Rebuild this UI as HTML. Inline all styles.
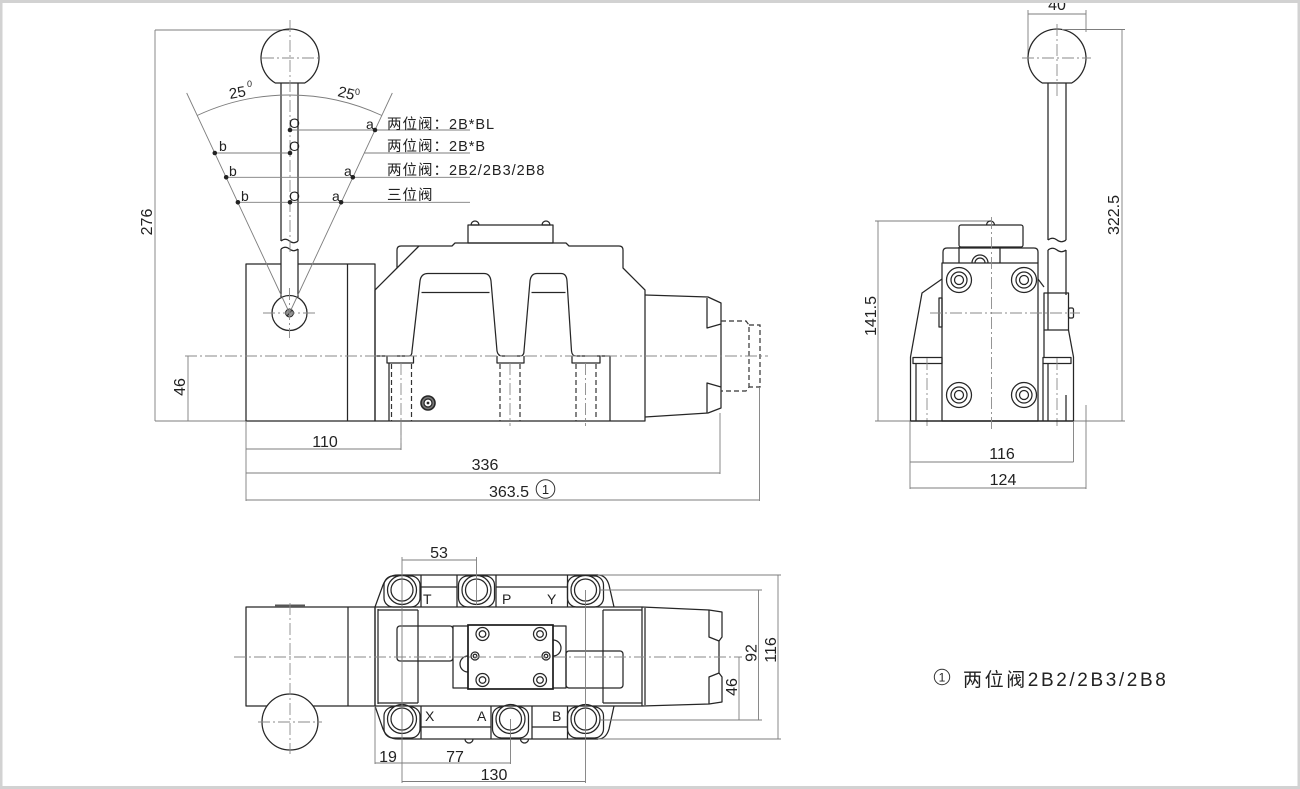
<!DOCTYPE html>
<html><head><meta charset="utf-8">
<style>
html,body{margin:0;padding:0;background:#fff;}
svg{display:block;}
.o{stroke:#262626;stroke-width:1.25;fill:none;stroke-linejoin:round;}
.ow{stroke:#262626;stroke-width:1.25;fill:#fff;stroke-linejoin:round;}
.d{stroke:#7d7d7d;stroke-width:0.9;fill:none;}
.c{stroke:#8a8a8a;stroke-width:0.9;fill:none;stroke-dasharray:12 3 2 3;}
.h{stroke:#333;stroke-width:1.2;fill:none;stroke-dasharray:5 3;}
text{font-family:"Liberation Sans","Noto Sans CJK SC",sans-serif;fill:#222;}
.t{font-size:16px;}
.s{font-size:14px;}
.cn{font-size:14.5px;letter-spacing:1px;}
</style></head><body>
<svg width="1300" height="789" viewBox="0 0 1300 789" xmlns="http://www.w3.org/2000/svg">
<rect x="0" y="0" width="1300" height="789" fill="#fff"/>

<!-- ================= FRONT VIEW ================= -->
<line class="d" x1="155" y1="30" x2="155" y2="421"/>
<line class="d" x1="155" y1="30" x2="289" y2="30"/>
<line class="d" x1="155" y1="421" x2="246" y2="421"/>
<text class="t" transform="translate(152,222) rotate(-90)" text-anchor="middle">276</text>
<line class="d" x1="188" y1="356" x2="188" y2="421"/>
<text class="t" transform="translate(185,387) rotate(-90)" text-anchor="middle">46</text>

<rect class="o" x="246" y="264" width="129" height="157"/>
<line class="o" x1="347.5" y1="264" x2="347.5" y2="421"/>

<path class="o" d="M275.3,83 A29,29 0 1,1 304.7,83 Z"/>
<rect x="281" y="249" width="17" height="50" fill="#fff"/>
<path class="o" d="M281,83 V241 M298,83 V241 M281,249 V297 M298,249 V297"/>
<path class="o" d="M281,241 q4.25,-3.5 8.5,0 t8.5,0 M281,249 q4.25,-3.5 8.5,0 t8.5,0"/>
<line class="c" x1="262" y1="58" x2="318" y2="58"/>
<line class="c" x1="290" y1="20" x2="290" y2="255"/>
<circle class="ow" cx="289.5" cy="313" r="17.5"/>
<circle cx="289.5" cy="313" r="4" fill="#999" stroke="#262626" stroke-width="1"/>
<line x1="287" y1="316" x2="292" y2="310" stroke="#262626" stroke-width="1"/>
<line class="c" x1="263" y1="313" x2="316" y2="313"/>
<line class="c" x1="289.5" y1="288" x2="289.5" y2="338"/>

<line class="d" x1="289.5" y1="313" x2="186.7" y2="93"/>
<line class="d" x1="289.5" y1="313" x2="392.3" y2="93"/>
<path class="d" d="M197.4,115.4 A218,218 0 0,1 381.6,115.4"/>
<text transform="translate(230,99) rotate(-10)" style="font-size:15px">25</text>
<text x="247" y="87" style="font-size:9px">0</text>
<text transform="translate(337,96) rotate(14)" style="font-size:15px">25</text>
<text x="355" y="95" style="font-size:9px">0</text>

<line class="d" x1="290" y1="130" x2="470" y2="130"/>
<line class="d" x1="214.8" y1="153" x2="290" y2="153"/>
<line class="d" x1="364" y1="153" x2="470" y2="153"/>
<line class="d" x1="226" y1="177.3" x2="470" y2="177.3"/>
<line class="d" x1="237.9" y1="202.3" x2="470" y2="202.3"/>
<g fill="#222">
<circle cx="290" cy="130" r="2.3"/><circle cx="375" cy="130" r="2.3"/>
<circle cx="214.8" cy="153" r="2.3"/><circle cx="290" cy="153" r="2.3"/>
<circle cx="226.2" cy="177.3" r="2.3"/><circle cx="352.8" cy="177.3" r="2.3"/>
<circle cx="237.9" cy="202.3" r="2.3"/><circle cx="290" cy="202.3" r="2.3"/><circle cx="341.1" cy="202.3" r="2.3"/>
</g>
<g class="s">
<text x="289" y="128">O</text><text x="366" y="129">a</text>
<text x="219" y="151">b</text><text x="289" y="151">O</text>
<text x="229" y="176">b</text><text x="344" y="176">a</text>
<text x="241" y="201">b</text><text x="289" y="201">O</text><text x="332" y="201">a</text>
</g>
<text class="cn" x="387" y="129">两位阀：2B*BL</text>
<text class="cn" x="387" y="151">两位阀：2B*B</text>
<text class="cn" x="387" y="175">两位阀：2B2/2B3/2B8</text>
<text class="cn" x="387" y="200">三位阀</text>

<path class="o" d="M375,421 V290 L397,268 V250 Q397,246 401,246 H452 L455,243 H566 L569,246 H619 Q623,246 623,250 V268 L645,290 V421 Z"/>
<line class="o" x1="397" y1="268" x2="419" y2="246"/>
<rect class="o" x="468" y="225" width="85" height="18"/>
<path class="o" d="M471,225 A4,4 0 0,1 479,225 Z M542,225 A4,4 0 0,1 550,225 Z"/>
<path class="o" d="M375,356 H409 Q412,356 412,351 L420,281 Q421,273.5 428,273.5 H484 Q490,273.5 491,281 L497,351 Q498,356 502,356 H520 Q524,356 524,351 L530,281 Q531,273.5 537,273.5 H561 Q566.5,273.5 567,281 L571.5,351 Q572,356 576,356 H610 V421"/>
<line class="o" x1="421.5" y1="292.5" x2="489.5" y2="292.5"/>
<line class="o" x1="531.5" y1="292.5" x2="565.5" y2="292.5"/>
<path class="o" d="M387,356 V363 H413.5 V356 M497,356 V363 H524 V356 M572,356 V363 H600 V356"/>
<line class="o" x1="389" y1="363" x2="389" y2="421"/>
<line class="h" x1="391.5" y1="364" x2="391.5" y2="421"/>
<line class="h" x1="411.5" y1="364" x2="411.5" y2="421"/>
<line class="h" x1="500" y1="364" x2="500" y2="421"/>
<line class="h" x1="520" y1="364" x2="520" y2="421"/>
<line class="h" x1="576" y1="364" x2="576" y2="421"/>
<line class="h" x1="596" y1="364" x2="596" y2="418"/>
<line class="c" x1="401" y1="363" x2="401" y2="450"/>
<line class="c" x1="510" y1="363" x2="510" y2="426"/>
<line class="c" x1="585.5" y1="363" x2="585.5" y2="426"/>
<circle cx="428" cy="403" r="7" fill="#777" stroke="#262626" stroke-width="1.6"/>
<circle cx="428" cy="403" r="4" fill="#fff" stroke="#262626" stroke-width="1.2"/>
<circle cx="428" cy="403" r="1.4" fill="#262626"/>

<path class="o" d="M645,295 L708,297 L721,303 V408 L708,413 L645,417"/>
<path class="o" d="M707,298 V328 L721,324 M707,413 V383 L721,387"/>
<path class="h" d="M721,321 H746 L749,325 V387 L746,391 H721"/>
<path class="h" d="M749,325 H760 V387 H749"/>

<line class="c" x1="185" y1="356" x2="768" y2="356"/>

<line class="d" x1="246" y1="421" x2="246" y2="501"/>
<line class="d" x1="246" y1="449" x2="401" y2="449"/>
<line class="d" x1="401" y1="421" x2="401" y2="450"/>
<line class="d" x1="246" y1="473" x2="720" y2="473"/>
<line class="d" x1="720" y1="413" x2="720" y2="474"/>
<line class="d" x1="246" y1="500" x2="759" y2="500"/>
<line class="d" x1="759.5" y1="387" x2="759.5" y2="501"/>
<text class="t" x="325" y="447" text-anchor="middle">110</text>
<text class="t" x="485" y="470" text-anchor="middle">336</text>
<text class="t" x="509" y="497" text-anchor="middle">363.5</text>
<circle cx="545.5" cy="489" r="9.3" fill="none" stroke="#333" stroke-width="1"/>
<text x="545.5" y="494" text-anchor="middle" style="font-size:13px">1</text>

<!-- ================= SIDE VIEW ================= -->
<text class="t" x="1057" y="10" text-anchor="middle">40</text>
<line class="d" x1="1028" y1="14" x2="1086" y2="14"/>
<line class="d" x1="1028" y1="10" x2="1028" y2="56"/>
<line class="d" x1="1086" y1="10" x2="1086" y2="32"/>
<path class="o" d="M1042.3,83 A29,29 0 1,1 1071.7,83 Z"/>
<line class="c" x1="1022" y1="58" x2="1091" y2="58"/>
<line class="c" x1="1057" y1="24" x2="1057" y2="96"/>
<path class="o" d="M1048,83 V240 M1066,83 V240 M1048,250 V295 M1066,250 V295"/>
<path class="o" d="M1048,240 q4.5,-3.5 9,0 t9,0 M1048,250 q4.5,-3.5 9,0 t9,0"/>
<line class="d" x1="1062" y1="29.5" x2="1125" y2="29.5"/>
<line class="d" x1="1122" y1="29.5" x2="1122" y2="421"/>
<text class="t" transform="translate(1119,215) rotate(-90)" text-anchor="middle">322.5</text>
<line class="d" x1="875" y1="221" x2="990" y2="221"/>
<line class="d" x1="878" y1="221" x2="878" y2="421"/>
<text class="t" transform="translate(876,316) rotate(-90)" text-anchor="middle">141.5</text>
<line class="d" x1="875" y1="421" x2="1125" y2="421"/>
<rect class="o" x="959" y="225" width="64" height="22" rx="2"/>
<path class="o" d="M986.5,225 A4,4 0 0,1 994.5,225"/>
<path class="o" d="M943,263 V252 Q943,248 947,248 H1034 Q1038,248 1038,252 V263"/>
<line class="o" x1="959" y1="247" x2="959" y2="263"/>
<line class="o" x1="1000" y1="247" x2="1000" y2="263"/>
<path class="o" d="M972,263 A8,8 0 0,1 988,263 M975,263 A5,5 0 0,1 985,263"/>
<rect class="o" x="942" y="263" width="96" height="158"/>
<g class="o">
<circle cx="959" cy="280" r="12.5"/><circle cx="959" cy="280" r="8"/><circle cx="959" cy="280" r="4.5"/>
<circle cx="1024" cy="280" r="12.5"/><circle cx="1024" cy="280" r="8"/><circle cx="1024" cy="280" r="4.5"/>
<circle cx="959" cy="395" r="12.5"/><circle cx="959" cy="395" r="8"/><circle cx="959" cy="395" r="4.5"/>
<circle cx="1024" cy="395" r="12.5"/><circle cx="1024" cy="395" r="8"/><circle cx="1024" cy="395" r="4.5"/>
</g>
<rect class="o" x="939" y="298" width="3" height="29"/>
<path class="o" d="M942,279 L922,293 L910.5,357 V421"/>
<rect class="o" x="913" y="357.5" width="29" height="6"/>
<line class="o" x1="916" y1="363.5" x2="916" y2="421"/>
<line class="c" x1="927" y1="358" x2="927" y2="426"/>
<path class="o" d="M1038,279 L1044,287"/>
<rect class="o" x="1044" y="293" width="24.5" height="37"/>
<line class="o" x1="1048" y1="295" x2="1048" y2="330"/>
<rect class="o" x="1068.5" y="308" width="5" height="10" rx="1.5"/>
<path class="o" d="M1068.5,330 L1073.5,357 V421 M1044,330 V357"/>
<rect class="o" x="1043" y="357.5" width="28" height="6"/>
<line class="o" x1="1043" y1="363.5" x2="1043" y2="421"/>
<line class="o" x1="1048" y1="363.5" x2="1048" y2="421"/>
<line class="o" x1="1066" y1="395" x2="1066" y2="421"/>
<line class="c" x1="1057" y1="358" x2="1057" y2="426"/>
<line x1="910" y1="421" x2="1074" y2="421" stroke="#262626" stroke-width="1.5"/>
<line class="c" x1="930" y1="313" x2="1080" y2="313"/>
<line class="c" x1="991.5" y1="217" x2="991.5" y2="430"/>
<line class="d" x1="910" y1="421" x2="910" y2="489"/>
<line class="d" x1="1073.5" y1="421" x2="1073.5" y2="462"/>
<line class="d" x1="1086" y1="405" x2="1086" y2="489"/>
<line class="d" x1="910" y1="462" x2="1073.5" y2="462"/>
<line class="d" x1="910" y1="488" x2="1086" y2="488"/>
<text class="t" x="1002" y="459" text-anchor="middle">116</text>
<text class="t" x="1003" y="485" text-anchor="middle">124</text>

<!-- ================= TOP VIEW ================= -->
<rect class="o" x="246" y="607" width="129" height="99"/>
<line class="o" x1="348" y1="607" x2="348" y2="706"/>
<rect x="275" y="604.5" width="30" height="2.5" fill="#555"/>
<circle class="ow" cx="290" cy="722" r="28"/>
<line class="c" x1="258" y1="722" x2="322" y2="722"/>
<line class="c" x1="290" y1="603" x2="290" y2="754"/>

<path class="o" d="M375,607 L383,585 Q387,575 398,575 H598 Q606,575 609,585 L614,607"/>
<path class="o" d="M375,706 L383,729 Q387,739 398,739 H598 Q606,739 609,729 L614,706"/>
<path class="o" d="M421,575 V607 M457,575 V607 M496,575 V607 M567.5,575 V607 M421,587 H457 M496,587 H567.5"/>
<path class="o" d="M421,706 V739 M491,706 V739 M532,706 V739 M567.5,706 V739 M421,727 H491 M532,727 H567.5"/>
<g class="o">
<rect x="384" y="576" width="36" height="31" rx="9"/>
<rect x="458.5" y="576" width="36" height="31" rx="9"/>
<rect x="567.5" y="576" width="36" height="31" rx="9"/>
<rect x="384" y="707" width="36" height="31" rx="9"/>
<rect x="492.5" y="707" width="36" height="31" rx="9"/>
<rect x="567.5" y="707" width="36" height="31" rx="9"/>
</g>
<g class="ow">
<circle cx="402" cy="590" r="14.5"/><circle cx="476.5" cy="590" r="14.5"/><circle cx="585.5" cy="590" r="14.5"/>
<circle cx="402" cy="719" r="14.5"/><circle cx="510.5" cy="719" r="14.5"/><circle cx="585.5" cy="719" r="14.5"/>
</g>
<g class="o">
<circle cx="402" cy="590" r="11"/><circle cx="476.5" cy="590" r="11"/><circle cx="585.5" cy="590" r="11"/>
<circle cx="402" cy="719" r="11"/><circle cx="510.5" cy="719" r="11"/><circle cx="585.5" cy="719" r="11"/>
</g>
<path class="o" d="M465,739 A4,4 0 0,0 473,739 M520.5,739 A4,4 0 0,0 528.5,739"/>
<g class="s">
<text x="423" y="604">T</text><text x="502" y="604">P</text><text x="547" y="604">Y</text>
<text x="425" y="721">X</text><text x="477" y="721">A</text><text x="552" y="721">B</text>
</g>

<rect class="o" x="375" y="607" width="267" height="99"/>
<path class="o" d="M378,609 V704 M378,610 H418 M603,610 H642 M378,703 H418 M603,703 H642"/>
<line class="o" x1="418" y1="610" x2="418" y2="703"/>
<line class="o" x1="603" y1="610" x2="603" y2="703"/>
<rect class="o" x="397" y="626" width="56" height="35" rx="3"/>
<rect class="ow" x="453" y="626" width="113" height="62"/>
<rect class="o" x="566" y="651" width="57" height="37" rx="3"/>
<path class="o" d="M468,656 A8,8 0 0,0 468,672 M553,640 A8,8 0 0,1 553,656"/>
<rect x="468" y="625" width="85" height="64" fill="#fff" stroke="#1a1a1a" stroke-width="1.7"/>
<g class="o">
<circle cx="482.5" cy="634" r="6.5"/><circle cx="482.5" cy="634" r="3.3"/>
<circle cx="540" cy="634" r="6.5"/><circle cx="540" cy="634" r="3.3"/>
<circle cx="482.5" cy="680" r="6.5"/><circle cx="482.5" cy="680" r="3.3"/>
<circle cx="540" cy="680" r="6.5"/><circle cx="540" cy="680" r="3.3"/>
<circle cx="475" cy="656" r="4"/><circle cx="475" cy="656" r="1.8"/>
<circle cx="546" cy="656" r="4"/><circle cx="546" cy="656" r="1.8"/>
</g>
<path class="o" d="M642,607 L709,610 L722,612 V637 L719,641 V673 L722,677 V702 L709,704 L642,706"/>
<path class="o" d="M645,608 V705 M709,610 V637 L719,641 M709,704 V677 L719,673"/>

<line class="c" x1="234" y1="657" x2="742" y2="657"/>

<line class="d" x1="402" y1="557" x2="402" y2="783"/>
<line class="d" x1="476.5" y1="557" x2="476.5" y2="605"/>
<line class="d" x1="402" y1="560" x2="476.5" y2="560"/>
<text class="t" x="439" y="558" text-anchor="middle">53</text>
<line class="d" x1="585.5" y1="590" x2="585.5" y2="783"/>
<line class="d" x1="510.5" y1="719" x2="510.5" y2="764"/>
<line class="d" x1="375" y1="706" x2="375" y2="764"/>
<line class="d" x1="375" y1="763" x2="510.5" y2="763"/>
<line class="d" x1="402" y1="781.5" x2="585.5" y2="781.5"/>
<text class="t" x="388" y="762" text-anchor="middle">19</text>
<text class="t" x="455" y="762" text-anchor="middle">77</text>
<text class="t" x="494" y="780" text-anchor="middle">130</text>
<line class="d" x1="598" y1="575" x2="781" y2="575"/>
<line class="d" x1="600" y1="590" x2="762" y2="590"/>
<line class="d" x1="600" y1="720" x2="762" y2="720"/>
<line class="d" x1="598" y1="739" x2="781" y2="739"/>
<line class="d" x1="778" y1="575" x2="778" y2="739"/>
<line class="d" x1="758.5" y1="590" x2="758.5" y2="720"/>
<line class="d" x1="739" y1="657" x2="739" y2="720"/>
<text class="t" transform="translate(776,650) rotate(-90)" text-anchor="middle">116</text>
<text class="t" transform="translate(756.5,653) rotate(-90)" text-anchor="middle">92</text>
<text class="t" transform="translate(737,687) rotate(-90)" text-anchor="middle">46</text>

<!-- legend -->
<circle cx="942" cy="677" r="7.7" fill="none" stroke="#333" stroke-width="1"/>
<text x="942" y="681.5" text-anchor="middle" style="font-size:12px">1</text>
<text x="963" y="686" style="font-size:19px;letter-spacing:2.6px">两位阀2B2/2B3/2B8</text>

<!-- frame -->
<rect x="0" y="0" width="1300" height="3" fill="#d2d2d2"/>
<rect x="0" y="786" width="1300" height="3" fill="#d2d2d2"/>
<rect x="0" y="0" width="2.5" height="789" fill="#d2d2d2"/>
<rect x="1297.5" y="0" width="2.5" height="789" fill="#d2d2d2"/>
</svg>
</body></html>
